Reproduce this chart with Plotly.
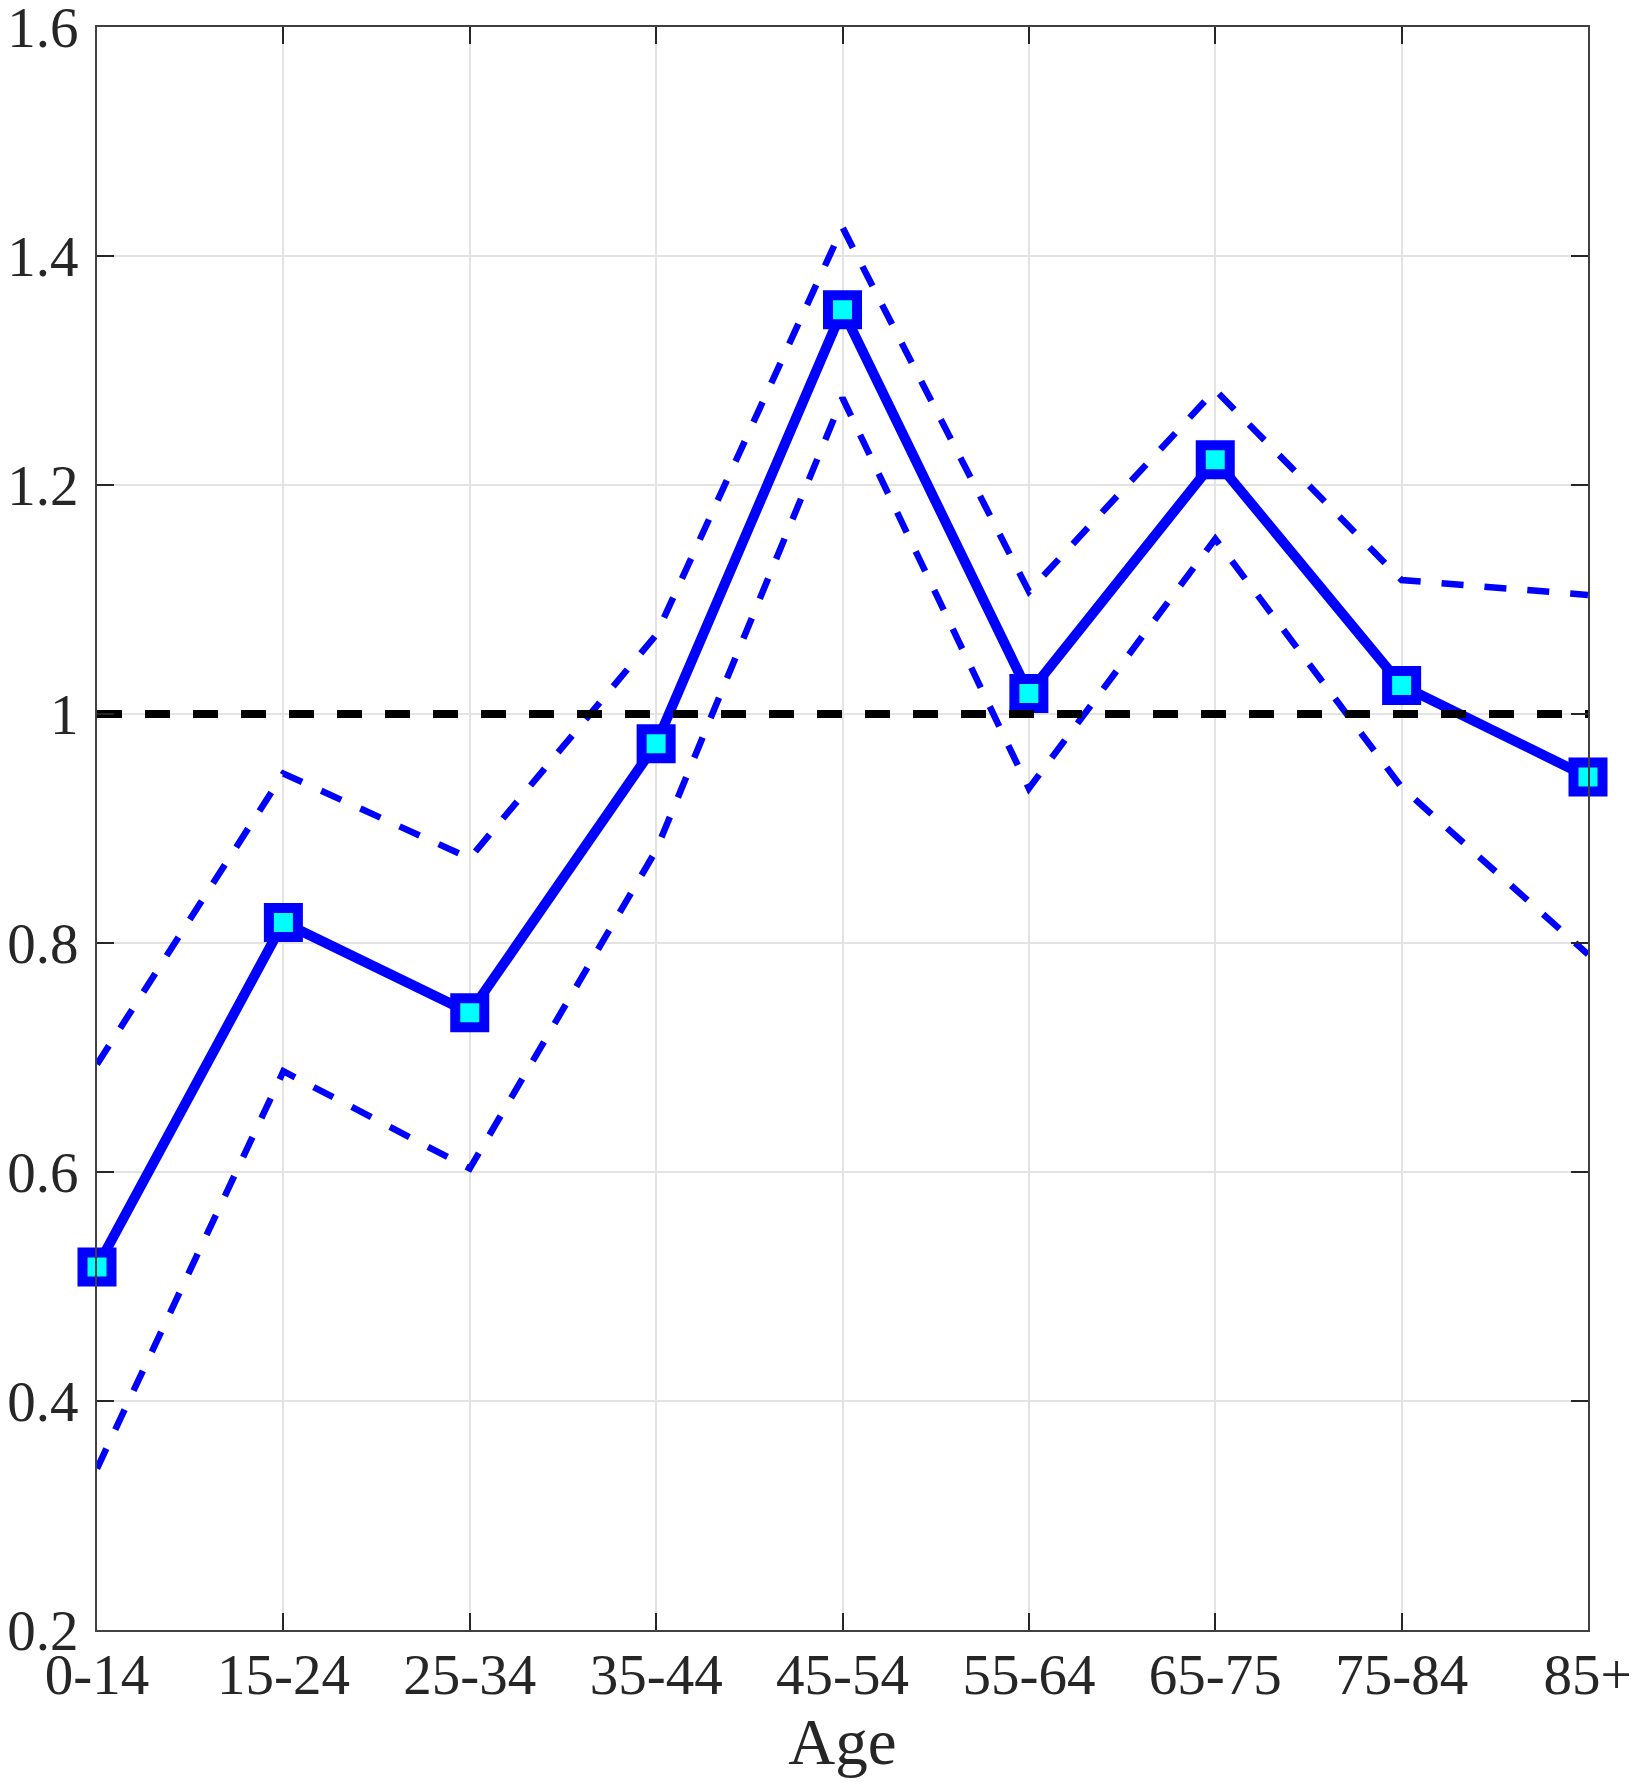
import plotly.graph_objects as go

# age groups on the x axis
ages = ["0-14", "15-24", "25-34", "35-44", "45-54", "55-64", "65-75", "75-84", "85+"]

# estimate with lower / upper bounds
estimate = [0.517, 0.818, 0.739, 0.974, 1.353, 1.018, 1.222, 1.025, 0.945]
upper = [0.694, 0.948, 0.874, 1.069, 1.425, 1.107, 1.283, 1.117, 1.104]
lower = [0.341, 0.688, 0.603, 0.881, 1.276, 0.935, 1.153, 0.936, 0.790]

reference = 1.0
y_ticks = [0.2, 0.4, 0.6, 0.8, 1.0, 1.2, 1.4, 1.6]
y_labels = ["0.2", "0.4", "0.6", "0.8", "1", "1.2", "1.4", "1.6"]

FONT = "Liberation Serif"
TEXT = "#262626"

fig = go.Figure()

# dashed confidence bounds
for bound in (upper, lower):
    fig.add_trace(go.Scatter(x=ages, y=bound, mode="lines",
                             line=dict(color="#0000ff", width=6.5, dash="22px,21px"),
                             showlegend=False, hoverinfo="skip"))

# main estimate with square markers
fig.add_trace(go.Scatter(x=ages, y=estimate, mode="lines+markers",
                         line=dict(color="#0000ff", width=10),
                         marker=dict(symbol="square", size=29, color="#00ffff",
                                     line=dict(color="#0000ff", width=10)),
                         cliponaxis=False, showlegend=False))

# reference line at 1
fig.add_trace(go.Scatter(x=[ages[0], ages[-1]], y=[reference, reference], mode="lines",
                         line=dict(color="black", width=8, dash="25px,23px"),
                         showlegend=False, hoverinfo="skip"))

axis_style = dict(showline=True, linecolor="#404040", linewidth=2, mirror="ticks",
                  ticks="inside", ticklen=17, tickwidth=2, tickcolor="#262626",
                  showgrid=True, gridcolor="#e3e3e3", gridwidth=2, zeroline=False,
                  automargin=False, ticklabeloverflow="allow",
                  tickfont=dict(family=FONT, size=57, color=TEXT))

fig.update_xaxes(**axis_style, type="category", range=[0, len(ages) - 1],
                 categoryorder="array", categoryarray=ages,
                 ticklabelstandoff=-6,
                 title=dict(text="Age", font=dict(family=FONT, size=65, color=TEXT), standoff=2))
fig.update_yaxes(**axis_style, range=[y_ticks[0] - 1e-6, y_ticks[-1] + 1e-6],
                 tickvals=y_ticks, ticktext=y_labels, ticklabelstandoff=5)

# the page body adds an 8px offset, so the figure is sized to fit the window
fig.update_layout(width=1629, height=1775, plot_bgcolor="white", paper_bgcolor="white",
                  margin=dict(l=89, r=49, t=19, b=153))

fig.write_html("out.html")
